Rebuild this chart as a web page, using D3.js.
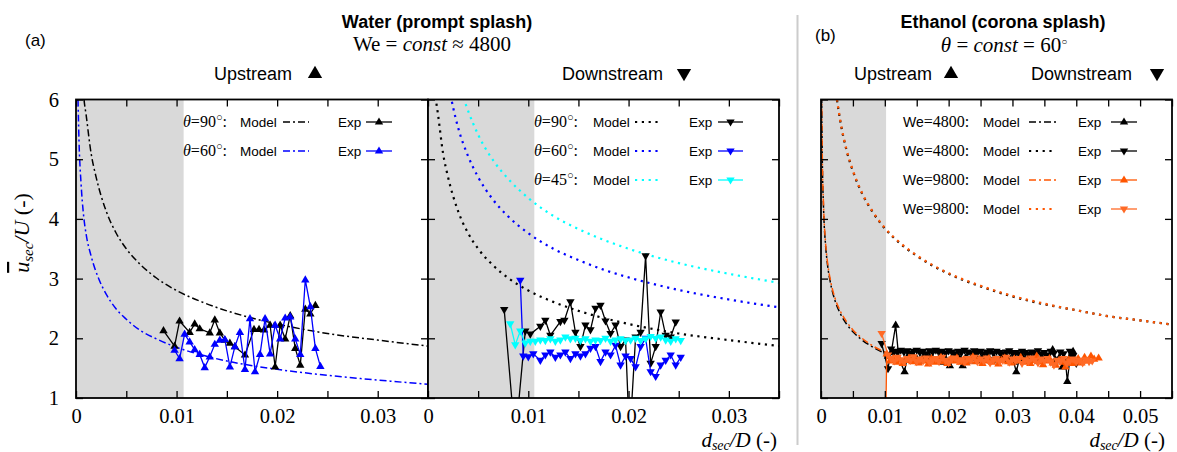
<!DOCTYPE html>
<html><head><meta charset="utf-8">
<script src="https://cdn.jsdelivr.net/npm/d3@7"></script>
<style>body{margin:0;background:#fff} svg{display:block}</style>
</head><body>
<svg id="c" width="1177" height="452"></svg>
<script>
// ---------------- DATA ----------------
const xTicks1 = [0, 0.01, 0.02, 0.03];
const xTicks3 = [0, 0.01, 0.02, 0.03, 0.04, 0.05];
const yTicks = [1, 2, 3, 4, 5, 6];

// Water, upstream models
const w90Model = [[0.0006,6.5],[0.0008,6.0],[0.001,5.75],[0.0015,5.1],[0.002,4.7],[0.003,4.13],[0.004,3.76],[0.005,3.5],[0.0065,3.22],[0.008,3.01],[0.01,2.8],[0.0125,2.61],[0.015,2.46],[0.0175,2.34],[0.02,2.24],[0.025,2.08],[0.03,1.97],[0.035,1.87]];
const w60UpModel = [[0.0002,6.0],[0.0003,5.3],[0.0005,4.6],[0.00076,4.05],[0.001,3.75],[0.0015,3.38],[0.0023,2.98],[0.003,2.74],[0.004,2.49],[0.005,2.32],[0.0064,2.13],[0.008,1.99],[0.01,1.85],[0.0125,1.72],[0.015,1.62],[0.02,1.48],[0.025,1.38],[0.03,1.3],[0.035,1.23]];
// Water, downstream models
const w60DownModel = [[0.002,6.3],[0.0025,5.87],[0.003,5.53],[0.004,5.05],[0.005,4.7],[0.0064,4.34],[0.008,4.04],[0.01,3.76],[0.0125,3.5],[0.015,3.31],[0.0175,3.15],[0.02,3.02],[0.025,2.81],[0.03,2.65],[0.035,2.52]];
const w45DownModel = [[0.003,6.36],[0.0035,6.05],[0.004,5.81],[0.005,5.41],[0.0065,4.98],[0.008,4.67],[0.01,4.35],[0.0125,4.05],[0.015,3.83],[0.0175,3.65],[0.02,3.5],[0.025,3.26],[0.03,3.08],[0.035,2.93]];

// Water, upstream experiments
const w90UpExp = [[0.0087,2.13],[0.0098,1.87],[0.0103,2.29],[0.0113,2.10],[0.0118,2.24],[0.0123,2.16],[0.0133,2.09],[0.0138,2.31],[0.0143,2.09],[0.0148,1.97],[0.0153,1.92],[0.0158,1.86],[0.0168,1.72],[0.0177,2.15],[0.0182,2.15],[0.0187,2.14],[0.0193,2.22],[0.0198,1.52],[0.0203,2.22],[0.0208,1.99],[0.0213,2.38],[0.0218,1.83],[0.0223,1.55],[0.0228,2.49],[0.0233,2.41],[0.0238,2.55]];
const w60UpExp = [[0.0098,1.80],[0.0103,1.66],[0.0108,2.07],[0.0113,1.94],[0.0118,1.81],[0.0123,1.73],[0.0128,1.51],[0.0133,1.69],[0.0138,1.90],[0.0143,1.97],[0.0148,1.98],[0.0153,1.52],[0.0158,1.86],[0.0163,2.10],[0.0168,1.48],[0.0173,2.33],[0.0178,1.44],[0.0183,1.73],[0.0188,2.33],[0.0193,1.74],[0.0198,2.22],[0.0203,1.99],[0.0208,2.34],[0.0213,2.36],[0.0218,1.99],[0.0223,1.73],[0.0228,2.98],[0.0233,2.53],[0.0238,1.83],[0.0243,1.53]];
// Water, downstream experiments
const w90DownExp = [[0.0076,2.48],[0.0087,0.3],[0.0097,2.12],[0.0102,2.07],[0.0112,2.20],[0.0117,2.30],[0.0122,2.05],[0.0132,2.28],[0.0136,2.30],[0.0142,2.61],[0.0147,2.10],[0.0152,1.86],[0.0157,2.22],[0.0162,2.14],[0.0167,2.50],[0.0172,2.55],[0.0177,2.29],[0.0182,2.08],[0.0187,2.22],[0.0192,1.86],[0.0197,1.97],[0.0201,0.3],[0.0207,2.02],[0.0212,2.10],[0.0217,3.38],[0.0222,1.58],[0.0227,1.86],[0.0232,2.44],[0.0237,2.05],[0.0242,2.02],[0.0247,2.27]];
const w60DownExp = [[0.0092,2.97],[0.0095,1.70],[0.0100,1.69],[0.0105,1.74],[0.0112,1.63],[0.0117,1.72],[0.0122,1.77],[0.0127,1.68],[0.0132,1.72],[0.0137,1.77],[0.0142,1.66],[0.0147,1.74],[0.0152,1.70],[0.0157,1.74],[0.0162,1.83],[0.0167,1.86],[0.0172,1.61],[0.0177,1.77],[0.0182,1.72],[0.0187,1.88],[0.0192,1.55],[0.0197,1.70],[0.0202,1.66],[0.0207,1.52],[0.0212,1.86],[0.0217,2.00],[0.0222,1.44],[0.0227,1.36],[0.0232,1.55],[0.0237,1.63],[0.0242,1.72],[0.0247,1.55],[0.0252,1.68]];
const w45DownExp = [[0.0082,2.24],[0.0087,1.89],[0.0092,2.12],[0.0097,1.92],[0.0102,1.95],[0.0107,1.95],[0.0112,1.97],[0.0117,1.96],[0.0122,1.99],[0.0127,1.95],[0.0132,1.97],[0.0137,2.02],[0.0142,1.99],[0.0147,2.00],[0.0152,1.96],[0.0157,1.99],[0.0162,1.95],[0.0167,1.97],[0.0172,1.96],[0.0177,2.00],[0.0182,1.95],[0.0187,1.97],[0.0192,1.99],[0.0197,1.96],[0.0202,1.97],[0.0207,2.00],[0.0212,1.96],[0.0217,1.99],[0.0222,2.03],[0.0227,2.00],[0.0232,2.02],[0.0237,1.97],[0.0242,1.95],[0.0247,1.99],[0.0252,1.96]];

// Ethanol models
const e4800DownModel = [[0.0025,5.99],[0.003,5.65],[0.004,5.15],[0.005,4.8],[0.0065,4.41],[0.008,4.13],[0.01,3.84],[0.0125,3.58],[0.015,3.38],[0.02,3.08],[0.025,2.87],[0.03,2.7],[0.035,2.57],[0.04,2.47],[0.045,2.37],[0.05,2.3],[0.055,2.23]];
const e9800DownModel = [[0.0025,6.0],[0.003,5.66],[0.004,5.16],[0.005,4.81],[0.0065,4.42],[0.008,4.14],[0.01,3.85],[0.0125,3.59],[0.015,3.39],[0.02,3.09],[0.025,2.88],[0.03,2.71],[0.035,2.58],[0.04,2.47],[0.045,2.37],[0.05,2.3],[0.055,2.23]];
const e4800UpModel = [[0.0001,6.06],[0.0002,5.03],[0.0004,4.17],[0.0007,3.58],[0.001,3.25],[0.0015,2.92],[0.0022,2.63],[0.003,2.42],[0.004,2.24],[0.005,2.11],[0.0061,2.0],[0.008,1.86],[0.0102,1.74]];
const e9800UpModel = [[0.0001,6.1],[0.0002,5.08],[0.0004,4.22],[0.0007,3.62],[0.001,3.29],[0.0015,2.96],[0.0022,2.67],[0.003,2.46],[0.004,2.28],[0.005,2.14],[0.0061,2.03],[0.008,1.88],[0.0102,1.76]];

// Ethanol experiments
const e4800UpExp = [[0.0105,1.70],[0.0110,1.76],[0.0117,2.22],[0.0122,1.66],[0.0131,1.44],[0.0135,1.68],[0.0140,1.65],[0.0145,1.70],[0.0150,1.66],[0.0155,1.62],[0.0160,1.68],[0.0165,1.64],[0.0170,1.69],[0.0175,1.66],[0.0180,1.63],[0.0185,1.67],[0.0190,1.60],[0.0195,1.66],[0.0202,1.54],[0.0207,1.65],[0.0212,1.70],[0.0217,1.67],[0.0222,1.54],[0.0227,1.68],[0.0232,1.62],[0.0237,1.66],[0.0242,1.70],[0.0247,1.63],[0.0252,1.67],[0.0257,1.65],[0.0262,1.69],[0.0267,1.62],[0.0272,1.66],[0.0277,1.64],[0.0282,1.68],[0.0287,1.63],[0.0292,1.67],[0.0297,1.65],[0.0302,1.60],[0.0306,1.44],[0.0311,1.66],[0.0316,1.69],[0.0321,1.63],[0.0326,1.67],[0.0331,1.65],[0.0336,1.70],[0.0341,1.62],[0.0346,1.68],[0.0351,1.66],[0.0356,1.64],[0.0363,1.81],[0.0368,1.63],[0.0373,1.67],[0.0378,1.52],[0.0383,1.62],[0.0386,1.28],[0.0390,1.66],[0.0395,1.78],[0.0400,1.60]];
const e4800DownExp = [[0.0095,1.91],[0.0105,1.49],[0.0110,1.82],[0.0115,1.78],[0.0120,1.76],[0.0125,1.80],[0.0130,1.77],[0.0135,1.79],[0.0140,1.75],[0.0145,1.78],[0.0150,1.80],[0.0155,1.76],[0.0160,1.78],[0.0165,1.74],[0.0170,1.79],[0.0175,1.77],[0.0180,1.80],[0.0185,1.76],[0.0190,1.78],[0.0195,1.75],[0.0200,1.79],[0.0205,1.77],[0.0210,1.74],[0.0215,1.78],[0.0220,1.76],[0.0225,1.80],[0.0230,1.77],[0.0235,1.75],[0.0240,1.79],[0.0245,1.76],[0.0250,1.78],[0.0255,1.74],[0.0260,1.77],[0.0265,1.79],[0.0270,1.75],[0.0275,1.78],[0.0280,1.76],[0.0285,1.73],[0.0290,1.77],[0.0295,1.79],[0.0300,1.75],[0.0305,1.76],[0.0310,1.74],[0.0315,1.78],[0.0320,1.76],[0.0325,1.73],[0.0330,1.77],[0.0335,1.75],[0.0340,1.79],[0.0345,1.74],[0.0350,1.76],[0.0355,1.72],[0.0360,1.78],[0.0365,1.75],[0.0370,1.62],[0.0375,1.77],[0.0380,1.74],[0.0385,1.60],[0.0390,1.78],[0.0395,1.70],[0.0400,1.58]];
const e9800UpExp = [[0.0101,0.3],[0.0103,1.74],[0.0108,1.62],[0.0113,1.66],[0.0118,1.60],[0.0123,1.64],[0.0128,1.58],[0.0133,1.63],[0.0138,1.67],[0.0143,1.61],[0.0148,1.65],[0.0153,1.59],[0.0158,1.64],[0.0163,1.62],[0.0168,1.57],[0.0173,1.66],[0.0178,1.60],[0.0183,1.63],[0.0188,1.68],[0.0193,1.61],[0.0198,1.58],[0.0203,1.65],[0.0208,1.62],[0.0213,1.67],[0.0218,1.60],[0.0223,1.64],[0.0228,1.59],[0.0233,1.63],[0.0238,1.69],[0.0243,1.61],[0.0248,1.65],[0.0253,1.58],[0.0258,1.62],[0.0263,1.66],[0.0268,1.60],[0.0273,1.64],[0.0278,1.57],[0.0283,1.63],[0.0288,1.67],[0.0293,1.61],[0.0298,1.59],[0.0303,1.65],[0.0308,1.62],[0.0313,1.68],[0.0318,1.60],[0.0323,1.64],[0.0328,1.58],[0.0333,1.63],[0.0338,1.70],[0.0343,1.61],[0.0348,1.56],[0.0353,1.62],[0.0358,1.66],[0.0363,1.59],[0.0368,1.55],[0.0373,1.63],[0.0378,1.60],[0.0383,1.52],[0.0388,1.64],[0.0393,1.58],[0.0398,1.61],[0.0403,1.66],[0.0408,1.59],[0.0413,1.68],[0.0418,1.62],[0.0423,1.70],[0.0428,1.65],[0.0435,1.67]];
const e9800DownExp = [[0.0095,2.08],[0.0105,1.72],[0.0110,1.66],[0.0115,1.62],[0.0120,1.68],[0.0125,1.64],[0.0130,1.60],[0.0135,1.66],[0.0140,1.63],[0.0145,1.69],[0.0150,1.61],[0.0155,1.65],[0.0160,1.62],[0.0165,1.67],[0.0170,1.60],[0.0175,1.64],[0.0180,1.66],[0.0185,1.61],[0.0190,1.68],[0.0195,1.63],[0.0200,1.59],[0.0205,1.65],[0.0210,1.67],[0.0215,1.62],[0.0220,1.64],[0.0225,1.60],[0.0230,1.66],[0.0235,1.63],[0.0240,1.68],[0.0245,1.61],[0.0250,1.65],[0.0255,1.62],[0.0260,1.67],[0.0265,1.59],[0.0270,1.64],[0.0275,1.66],[0.0280,1.61],[0.0285,1.63],[0.0290,1.68],[0.0295,1.60],[0.0300,1.65],[0.0305,1.62],[0.0310,1.66],[0.0315,1.58],[0.0320,1.64],[0.0325,1.61],[0.0330,1.67],[0.0335,1.63],[0.0340,1.59],[0.0345,1.65],[0.0350,1.62],[0.0355,1.66],[0.0360,1.60],[0.0365,1.55],[0.0370,1.63],[0.0375,1.61],[0.0380,1.66],[0.0385,1.58],[0.0390,1.62],[0.0395,1.65],[0.0400,1.60],[0.0405,1.63],[0.0410,1.59],[0.0415,1.64],[0.0420,1.61],[0.0425,1.62]];

// ---------------- DRAWING ----------------
const SANS = '"Liberation Sans", Arial, Helvetica, sans-serif';
const SERIF = '"Liberation Serif", "Times New Roman", serif';
const BLUE = '#0000ff', CYAN = '#00ffff', ORANGE = '#ff5500', ORANGE2 = '#ff6a26';
const DASHDOT = '7,3,2,3', DOT = '2.2,4.6';

const svg = d3.select('#c');
const Ybot = 398, Ytop = 99.5;
const yS = d3.scaleLinear([1, 6], [Ybot, Ytop]);

function triPath(up) {
  return up ? 'M0,-4.6L4.2,2.6L-4.2,2.6Z' : 'M0,4.6L4.2,-2.6L-4.2,-2.6Z';
}

function drawPanel(p) {
  const x = d3.scaleLinear([0, p.xmax], [p.x0, p.x1]);
  const g = svg.append('g');
  const clipId = 'clip' + p.id;
  svg.append('clipPath').attr('id', clipId).append('rect')
    .attr('x', p.x0).attr('y', Ytop).attr('width', p.x1 - p.x0).attr('height', Ybot - Ytop);
  g.append('rect').attr('x', x(0)).attr('y', Ytop).attr('width', x(p.grey) - x(0))
    .attr('height', Ybot - Ytop).attr('fill', '#d9d9d9');
  const plot = g.append('g').attr('clip-path', `url(#${clipId})`);
  const line = d3.line().x(d => x(d[0])).y(d => yS(d[1]));
  const curve = d3.line().x(d => x(d[0])).y(d => yS(d[1])).curve(d3.curveMonotoneX);
  p.models.forEach(m => {
    plot.append('path').datum(m.data).attr('d', curve).attr('fill', 'none')
      .attr('stroke', m.color).attr('stroke-width', m.dash === DOT ? 2.2 : 1.5)
      .attr('stroke-dasharray', m.dash);
  });
  p.exps.forEach(e => {
    plot.append('path').datum(e.data).attr('d', line).attr('fill', 'none')
      .attr('stroke', e.color).attr('stroke-width', 1.3);
    plot.append('g').selectAll('path').data(e.data).join('path')
      .attr('transform', d => `translate(${x(d[0])},${yS(d[1])})`)
      .attr('d', triPath(e.up)).attr('fill', e.color);
  });
  const minor = d3.range(0, p.xmax + 1e-9, 0.005);
  const fmt = d => p.labelTicks.some(t => Math.abs(t - d) < 1e-9) ? (d === 0 ? '0' : d.toFixed(2)) : '';
  g.append('g').attr('transform', `translate(0,${Ybot})`)
    .call(d3.axisBottom(x).tickValues(minor).tickSize(-7).tickPadding(10).tickFormat(fmt));
  g.append('g').attr('transform', `translate(0,${Ytop})`)
    .call(d3.axisTop(x).tickValues(minor).tickSize(-7).tickFormat(''));
  g.append('g').attr('transform', `translate(${p.x0},0)`)
    .call(d3.axisLeft(yS).tickValues(yTicks).tickSize(-7).tickPadding(17)
      .tickFormat(p.yLabels ? d3.format('d') : ''));
  g.append('g').attr('transform', `translate(${p.x1},0)`)
    .call(d3.axisRight(yS).tickValues(yTicks).tickSize(-7).tickFormat(''));
  g.selectAll('.domain').remove();
  g.selectAll('.tick line').attr('stroke', '#000').attr('stroke-width', 1.3);
  g.selectAll('.tick text').attr('font-family', SERIF).attr('font-size', 20.5).attr('fill', '#000');
  g.append('rect').attr('x', p.x0).attr('y', Ytop).attr('width', p.x1 - p.x0)
    .attr('height', Ybot - Ytop).attr('fill', 'none').attr('stroke', '#000').attr('stroke-width', 1.8);
  return x;
}

const panels = [
  { id: 1, x0: 76, x1: 428, xmax: 0.035, grey: 0.0107, yLabels: true, labelTicks: xTicks1,
    models: [{ data: w90Model, color: '#000', dash: DASHDOT }, { data: w60UpModel, color: BLUE, dash: DASHDOT }],
    exps: [{ data: w90UpExp, color: '#000', up: true }, { data: w60UpExp, color: BLUE, up: true }] },
  { id: 2, x0: 428, x1: 779, xmax: 0.035, grey: 0.0106, yLabels: false, labelTicks: xTicks1,
    models: [{ data: w90Model, color: '#000', dash: DOT }, { data: w60DownModel, color: BLUE, dash: DOT }, { data: w45DownModel, color: CYAN, dash: DOT }],
    exps: [{ data: w90DownExp, color: '#000', up: false }, { data: w60DownExp, color: BLUE, up: false }, { data: w45DownExp, color: CYAN, up: false }] },
  { id: 3, x0: 821, x1: 1172, xmax: 0.055, grey: 0.0102, yLabels: false, labelTicks: xTicks3,
    models: [{ data: e4800DownModel, color: '#000', dash: DOT }, { data: e9800DownModel, color: ORANGE, dash: DOT },
             { data: e4800UpModel, color: '#000', dash: DASHDOT }, { data: e9800UpModel, color: ORANGE, dash: DASHDOT }],
    exps: [{ data: e4800UpExp, color: '#000', up: true }, { data: e4800DownExp, color: '#000', up: false },
           { data: e9800UpExp, color: ORANGE, up: true }, { data: e9800DownExp, color: ORANGE2, up: false }] }
];
panels.forEach(drawPanel);

// ---------- legends ----------
function legendRow(cfg) {
  const { y, xLabel, xModel, mx0, mx1, xExp, ex0, ex1, label, modelColor, dash, expColor, up } = cfg;
  const t = svg.append('text').attr('x', xLabel).attr('y', y + 5).attr('font-size', 16).attr('font-family', SERIF);
  label(t);
  svg.append('text').attr('x', xModel).attr('y', y + 5).attr('font-family', SANS).attr('font-size', 13.5).text('Model');
  svg.append('line').attr('x1', mx0).attr('x2', mx1).attr('y1', y).attr('y2', y)
    .attr('stroke', modelColor).attr('stroke-width', dash === DOT ? 2.2 : 1.5).attr('stroke-dasharray', dash);
  svg.append('text').attr('x', xExp).attr('y', y + 5).attr('font-family', SANS).attr('font-size', 13.5).text('Exp');
  svg.append('line').attr('x1', ex0).attr('x2', ex1).attr('y1', y).attr('y2', y).attr('stroke', expColor).attr('stroke-width', 1.3);
  svg.append('path').attr('transform', `translate(${(ex0 + ex1) / 2},${y})`).attr('d', triPath(up)).attr('fill', expColor);
}
function thetaLabel(deg) {
  return t => {
    t.append('tspan').attr('font-style', 'italic').text('θ');
    t.append('tspan').text('=' + deg);
    t.append('tspan').attr('font-size', 11).attr('dy', -6).text('○');
    t.append('tspan').attr('dy', 6).text(':');
  };
}
function weLabel(we) {
  return t => {
    t.append('tspan').attr('font-family', SANS).attr('font-size', 14).text('We');
    t.append('tspan').text('=' + we + ':');
  };
}
const L1 = { xLabel: 183, xModel: 240, mx0: 283, mx1: 309, xExp: 338, ex0: 366, ex1: 392 };
legendRow({ ...L1, y: 122, label: thetaLabel(90), modelColor: '#000', dash: DASHDOT, expColor: '#000', up: true });
legendRow({ ...L1, y: 151, label: thetaLabel(60), modelColor: BLUE, dash: DASHDOT, expColor: BLUE, up: true });
const L2 = { xLabel: 534, xModel: 593, mx0: 635, mx1: 660, xExp: 689, ex0: 718, ex1: 743 };
legendRow({ ...L2, y: 122, label: thetaLabel(90), modelColor: '#000', dash: DOT, expColor: '#000', up: false });
legendRow({ ...L2, y: 151, label: thetaLabel(60), modelColor: BLUE, dash: DOT, expColor: BLUE, up: false });
legendRow({ ...L2, y: 180, label: thetaLabel(45), modelColor: CYAN, dash: DOT, expColor: CYAN, up: false });
const L3 = { xLabel: 903, xModel: 983, mx0: 1029, mx1: 1056, xExp: 1078, ex0: 1111, ex1: 1137 };
legendRow({ ...L3, y: 122, label: weLabel(4800), modelColor: '#000', dash: DASHDOT, expColor: '#000', up: true });
legendRow({ ...L3, y: 151, label: weLabel(4800), modelColor: '#000', dash: DOT, expColor: '#000', up: false });
legendRow({ ...L3, y: 180, label: weLabel(9800), modelColor: ORANGE, dash: DASHDOT, expColor: ORANGE, up: true });
legendRow({ ...L3, y: 209, label: weLabel(9800), modelColor: ORANGE, dash: DOT, expColor: ORANGE2, up: false });

// ---------- headers ----------
function txt(x, y, s, opts = {}) {
  return svg.append('text').attr('x', x).attr('y', y).attr('font-family', opts.family || SANS)
    .attr('font-size', opts.size || 18).attr('font-weight', opts.weight || 'normal')
    .attr('text-anchor', opts.anchor || 'start').text(s);
}
txt(25, 46, '(a)', { size: 17 });
txt(815, 41, '(b)', { size: 17 });
txt(437, 28, 'Water (prompt splash)', { weight: 'bold', anchor: 'middle' });
txt(1003, 28, 'Ethanol (corona splash)', { weight: 'bold', anchor: 'middle' });

const s1 = svg.append('text').attr('x', 432).attr('y', 51).attr('text-anchor', 'middle')
  .attr('font-family', SERIF).attr('font-size', 21);
s1.append('tspan').text('We = ');
s1.append('tspan').attr('font-style', 'italic').text('const');
s1.append('tspan').text(' ≈ 4800');
const s2 = svg.append('text').attr('x', 1004).attr('y', 52).attr('text-anchor', 'middle')
  .attr('font-family', SERIF).attr('font-size', 21);
s2.append('tspan').attr('font-style', 'italic').text('θ');
s2.append('tspan').text(' = ');
s2.append('tspan').attr('font-style', 'italic').text('const');
s2.append('tspan').text(' = 60');
s2.append('tspan').attr('font-size', 10).attr('dy', -7).text('○');

function sideLabel(x, text, up, triX) {
  txt(x, 80, text, { size: 18 });
  svg.append('path').attr('transform', `translate(${triX},73.5) scale(1.7)`).attr('d', triPath(up)).attr('fill', '#000');
}
sideLabel(214, 'Upstream', true, 315);
sideLabel(562, 'Downstream', false, 684);
sideLabel(854, 'Upstream', true, 951);
sideLabel(1031, 'Downstream', false, 1157);

// divider
svg.append('line').attr('x1', 797.5).attr('x2', 797.5).attr('y1', 15).attr('y2', 445)
  .attr('stroke', '#cccccc').attr('stroke-width', 2);

// y axis title
const yl = svg.append('text').attr('transform', 'translate(29,233) rotate(-90)').attr('text-anchor', 'middle')
  .attr('font-family', SERIF).attr('font-size', 22);
yl.append('tspan').attr('font-style', 'italic').attr('text-decoration', 'overline').text('u');
yl.append('tspan').attr('font-style', 'italic').attr('font-size', 15).attr('dy', 4).text('sec');
yl.append('tspan').attr('font-style', 'italic').attr('dy', -4).text('/U');
yl.append('tspan').text(' (-)');

// x axis titles
function xTitle(xRight) {
  const t = svg.append('text').attr('x', xRight).attr('y', 447).attr('text-anchor', 'end')
    .attr('font-family', SERIF).attr('font-size', 21);
  t.append('tspan').attr('font-style', 'italic').text('d');
  t.append('tspan').attr('font-style', 'italic').attr('font-size', 14).attr('dy', 3).text('sec');
  t.append('tspan').attr('font-style', 'italic').attr('dy', -3).text('/D');
  t.append('tspan').text(' (-)');
}
xTitle(777);
xTitle(1165);
</script>
</body></html>
